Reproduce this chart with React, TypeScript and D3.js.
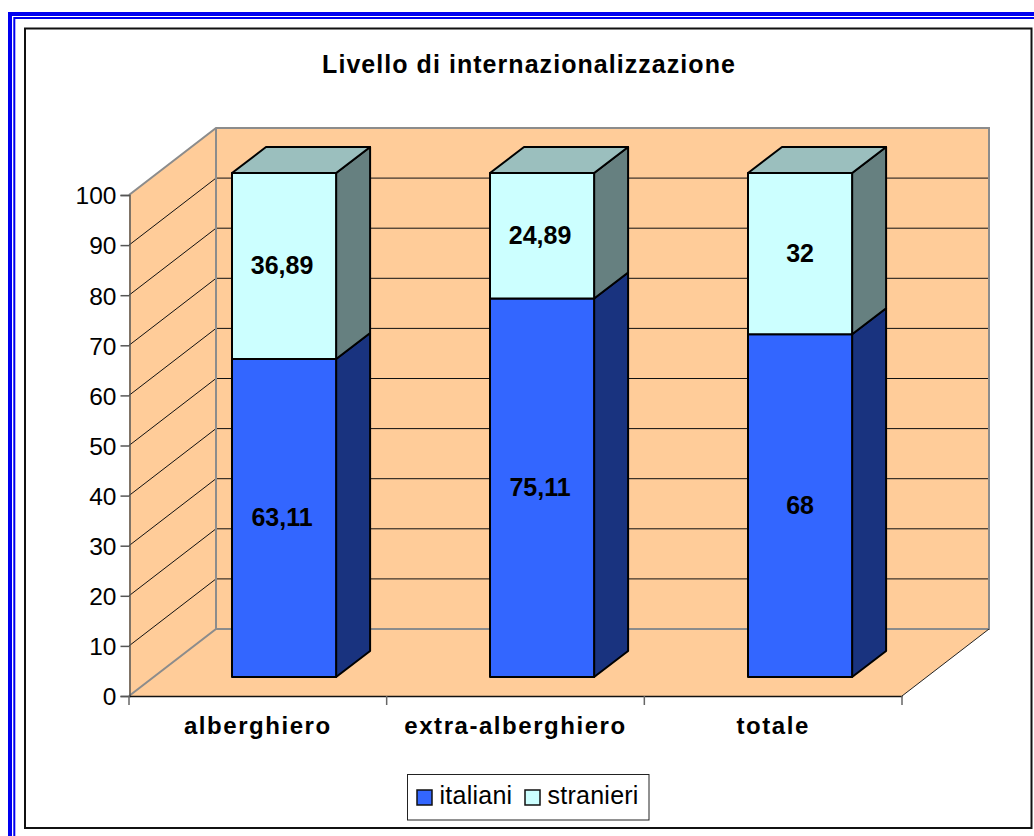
import React, { useEffect, useRef } from 'react';
import * as d3 from 'd3';

const title = 'Livello di internazionalizzazione';
const categories = ['alberghiero', 'extra-alberghiero', 'totale'];
const italiani = [63.11, 75.11, 68];
const stranieri = [36.89, 24.89, 32];
const yTicks = [0, 10, 20, 30, 40, 50, 60, 70, 80, 90, 100];
const seriesNames = ['italiani', 'stranieri'];

const FONT = '"Liberation Sans", Arial, sans-serif';

const seriesColors = [
  { front: '#3366ff', side: '#19337f', top: '#264cbf' },
  { front: '#ccffff', side: '#668080', top: '#9bbfbe' },
];

const App = () => {
  const svgRef = useRef<SVGSVGElement>(null);

  useEffect(() => {
    const svg = d3.select(svgRef.current);
    svg.selectAll('*').remove(); // Clear existing content

    // Set up scales, walls sit behind the front plane by depth
    const depth = { x: 87, y: -67 };
    const x = d3.scaleBand<string>().domain(categories).range([129, 902]);
    const y = d3.scaleLinear().domain([0, 100]).range([696, 195]);
    const barY = d3.scaleLinear().domain([0, 100]).range([677, 173]);
    const wallLeft = 129 + depth.x;
    const wallRight = 902 + depth.x;

    // Page frames
    const blue = '#0000f0';
    svg.append('rect').attr('x', 10).attr('y', 14).attr('width', 1040).attr('height', 840).attr('fill', 'none').attr('stroke', blue).attr('stroke-width', 4);
    svg.append('rect').attr('x', 14.3).attr('y', 18).attr('width', 1040).attr('height', 840).attr('fill', 'none').attr('stroke', blue).attr('stroke-width', 2);
    svg.append('rect').attr('x', 25).attr('y', 28.5).attr('width', 1006.5).attr('height', 799.5).attr('fill', '#fff').attr('stroke', '#111').attr('stroke-width', 2);

    // Back wall, side wall and floor
    const wall = '#ffcc99';
    const poly = (pts: number[][], fill: string) =>
      svg.append('polygon').attr('points', pts.map((p) => p.join(',')).join(' ')).attr('fill', fill);
    poly([[wallLeft, y(100) + depth.y], [wallRight, y(100) + depth.y], [wallRight, y(0) + depth.y], [wallLeft, y(0) + depth.y]], wall);
    poly([[129, y(100)], [wallLeft, y(100) + depth.y], [wallLeft, y(0) + depth.y], [129, y(0)]], wall);
    poly([[129, y(0)], [wallLeft, y(0) + depth.y], [wallRight, y(0) + depth.y], [902, y(0)]], wall);

    // Gridlines on both walls
    const grid = yTicks.filter((t) => t > 0 && t < 100);
    svg.append('g').selectAll('path').data(grid).enter().append('path')
      .attr('d', (t) => `M129,${y(t)}L${wallLeft},${y(t) + depth.y}L${wallRight},${y(t) + depth.y}`)
      .attr('fill', 'none').attr('stroke', '#111').attr('stroke-width', 1);

    // Wall edges
    const grey = '#8c8c8c';
    const edge = (d: string, stroke: string, w: number) =>
      svg.append('path').attr('d', d).attr('fill', 'none').attr('stroke', stroke).attr('stroke-width', w);
    edge(`M129,${y(100)}L${wallLeft},${y(100) + depth.y}L${wallRight},${y(100) + depth.y}L${wallRight},${y(0) + depth.y}L${wallLeft},${y(0) + depth.y}L129,${y(0)}`, grey, 2);
    edge(`M${wallLeft},${y(100) + depth.y}V${y(0) + depth.y}`, grey, 2);
    edge(`M902,${y(0)}L${wallRight},${y(0) + depth.y}`, '#222', 1);

    // Axes
    const yAxis = svg.append('g').attr('transform', 'translate(129.5,0)').call(d3.axisLeft(y).tickValues(yTicks).tickSize(9).tickPadding(4));
    yAxis.select('.domain').attr('stroke', '#555').attr('stroke-width', 1.5);
    yAxis.selectAll('.tick line').attr('stroke', '#555').attr('stroke-width', 1.5);
    yAxis.selectAll('text').attr('font-family', FONT).attr('font-size', 24.5).attr('fill', '#000').attr('dy', '0.36em');

    const xAxis = svg.append('g').attr('transform', `translate(0,${y(0)})`).call(d3.axisBottom(x).tickSize(0).tickPadding(22));
    xAxis.select('.domain').attr('stroke', '#111').attr('stroke-width', 1.5);
    xAxis.selectAll('text').attr('font-family', FONT).attr('font-size', 24).attr('font-weight', 'bold').attr('letter-spacing', 1.55).attr('fill', '#000').attr('dy', 0).attr('y', 38);
    const boundaries = [...categories.map((c) => x(c) as number), 902];
    svg.append('g').selectAll('line').data(boundaries).enter().append('line')
      .attr('x1', (d) => d).attr('x2', (d) => d).attr('y1', y(0)).attr('y2', y(0) + 9)
      .attr('stroke', '#666').attr('stroke-width', 1.5);

    // Stacked 3D bars
    const stacked = categories.map((c, i) => ({ category: c, values: [italiani[i], stranieri[i]] }));
    const barW = x.bandwidth() * 0.404;
    const side = { x: 34, y: -26 };
    stacked.forEach((d) => {
      const left = Math.round((x(d.category) as number) + x.bandwidth() / 2 + 26.5 - barW / 2);
      let base = 0;
      d.values.forEach((v, s) => {
        const y0 = barY(base);
        const y1 = barY(base + v);
        const colors = seriesColors[s];
        const g = svg.append('g').attr('stroke', '#000').attr('stroke-width', 2).attr('stroke-linejoin', 'round');
        g.append('polygon')
          .attr('points', `${left + barW},${y0} ${left + barW + side.x},${y0 + side.y} ${left + barW + side.x},${y1 + side.y} ${left + barW},${y1}`)
          .attr('fill', colors.side);
        if (s === d.values.length - 1) {
          g.append('polygon')
            .attr('points', `${left},${y1} ${left + side.x},${y1 + side.y} ${left + barW + side.x},${y1 + side.y} ${left + barW},${y1}`)
            .attr('fill', colors.top);
        }
        g.append('rect').attr('x', left).attr('y', y1).attr('width', barW).attr('height', y0 - y1).attr('fill', colors.front);
        const label = String(v).replace('.', ',');
        svg.append('text')
          .attr('x', left + barW / 2 - (label.length > 2 ? 2 : 0)).attr('y', (y0 + y1) / 2 + 8)
          .attr('text-anchor', 'middle').attr('font-family', FONT).attr('font-size', 25).attr('font-weight', 'bold')
          .attr('fill', '#000')
          .text(label);
        base += v;
      });
    });

    // Title
    svg.append('text').attr('x', 529).attr('y', 73).attr('text-anchor', 'middle')
      .attr('font-family', FONT).attr('font-size', 25).attr('font-weight', 'bold').attr('letter-spacing', 1.05).text(title);

    // Legend
    svg.append('rect').attr('x', 407.5).attr('y', 774.5).attr('width', 241.5).attr('height', 45.5).attr('fill', '#fff').attr('stroke', '#222').attr('stroke-width', 1);
    const legendX = [417, 525];
    seriesNames.forEach((name, i) => {
      svg.append('rect').attr('x', legendX[i]).attr('y', 790).attr('width', 15).attr('height', 15).attr('fill', seriesColors[i].front).attr('stroke', '#111').attr('stroke-width', 1.5);
      svg.append('text').attr('x', legendX[i] + 22.5).attr('y', 804).attr('font-family', FONT).attr('font-size', 25).attr('letter-spacing', 0.25).attr('fill', '#000').text(name);
    });
  }, []);

  return <svg ref={svgRef} width={1034} height={836} style={{ position: 'absolute', left: 0, top: 0 }} />;
};

export default App;
